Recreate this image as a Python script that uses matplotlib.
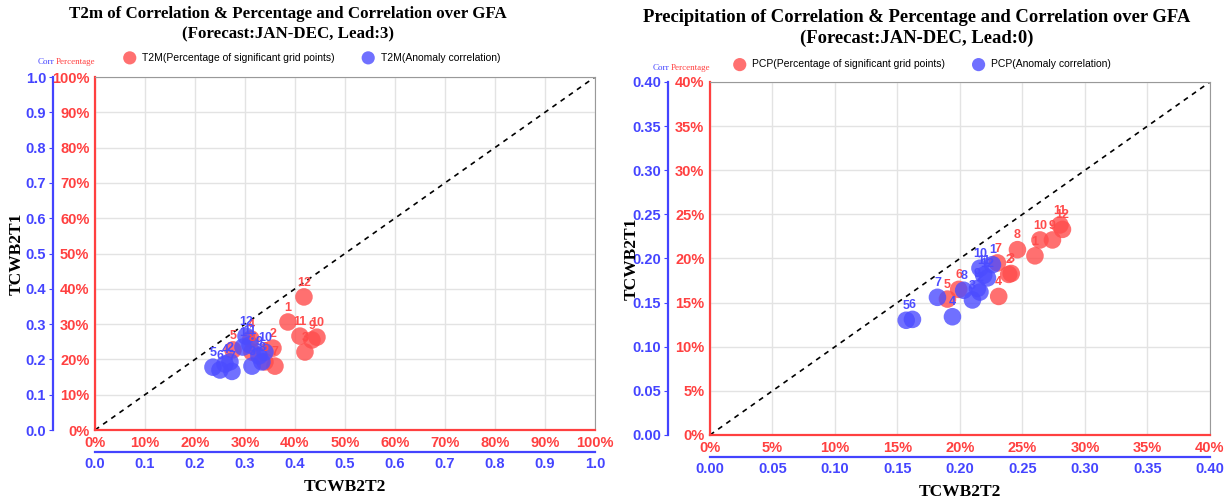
import matplotlib
matplotlib.use('Agg')
import matplotlib.pyplot as plt
from matplotlib.ticker import FuncFormatter, MultipleLocator

# ---- data ----
months = [str(m) for m in range(1, 13)]

# T2M, lead 3
t2mPctX = [0.386, 0.356, 0.420, 0.312, 0.276, 0.340, 0.360, 0.314, 0.434, 0.444, 0.410, 0.418]
t2mPctY = [0.306, 0.232, 0.221, 0.258, 0.227, 0.193, 0.181, 0.221, 0.255, 0.263, 0.266, 0.377]
t2mCorX = [0.296, 0.270, 0.314, 0.260, 0.236, 0.250, 0.274, 0.334, 0.328, 0.340, 0.310, 0.302]
t2mCorY = [0.235, 0.193, 0.181, 0.187, 0.178, 0.170, 0.166, 0.193, 0.210, 0.221, 0.241, 0.266]

# PCP, lead 0
pcpPctX = [0.260, 0.239, 0.241, 0.231, 0.190, 0.199, 0.230, 0.246, 0.274, 0.264, 0.280, 0.282]
pcpPctY = [0.203, 0.182, 0.183, 0.157, 0.154, 0.165, 0.195, 0.210, 0.221, 0.221, 0.238, 0.233]
pcpCorX = [0.226, 0.216, 0.210, 0.194, 0.157, 0.162, 0.182, 0.203, 0.214, 0.216, 0.219, 0.222]
pcpCorY = [0.193, 0.162, 0.153, 0.134, 0.130, 0.131, 0.156, 0.164, 0.166, 0.189, 0.181, 0.178]

## graphics settings
redColor = '#ff4c4c'
blueColor = '#4c4cff'
tickRed = '#ff4040'
tickBlue = '#4444ff'
gridColor = '#e3e3e3'
serif = 'Liberation Serif'
sans = 'Liberation Sans'

fig = plt.figure(figsize=(12.3, 5.03), dpi=100)


def _pctFmt(v, pos):
    return f'{v*100:.0f}%'


def _panel(rect, xmax, step, corrFmt, title, titleSize, titleTop, varName, pctX, pctY, corX, corY,
           centreX, legX, legY, yLabX, xLabY, corrY):
    ax = fig.add_axes(rect)
    ax.set_xlim(0, xmax)
    ax.set_ylim(0, xmax)
    ax.xaxis.set_major_locator(MultipleLocator(step))
    ax.yaxis.set_major_locator(MultipleLocator(step))
    ax.grid(True, color=gridColor, lw=1)
    ax.set_axisbelow(True)
    for s in ['top', 'right']:
        ax.spines[s].set_color('#999999')
    for s in ['left', 'bottom']:
        ax.spines[s].set_color(tickRed)
        ax.spines[s].set_linewidth(1.6)
    ax.xaxis.set_major_formatter(FuncFormatter(_pctFmt))
    ax.yaxis.set_major_formatter(FuncFormatter(_pctFmt))
    ax.tick_params(axis='both', length=0, pad=4, labelcolor=tickRed, labelsize=10.5)
    for lab in ax.get_xticklabels() + ax.get_yticklabels():
        lab.set_fontweight('bold')
        lab.set_family(sans)

    # blue correlation axes
    secY = ax.secondary_yaxis(-0.084)
    secY.yaxis.set_major_locator(MultipleLocator(step))
    secY.yaxis.set_major_formatter(FuncFormatter(lambda v, p: corrFmt % v))
    secY.spines['left'].set_color(tickBlue)
    secY.spines['left'].set_linewidth(1.6)
    secY.tick_params(length=3, color=tickBlue, labelcolor=tickBlue, labelsize=10.5, pad=2)
    secX = ax.secondary_xaxis(-0.062)
    secX.xaxis.set_major_locator(MultipleLocator(step))
    secX.xaxis.set_major_formatter(FuncFormatter(lambda v, p: corrFmt % v))
    secX.spines['bottom'].set_color(tickBlue)
    secX.spines['bottom'].set_linewidth(1.6)
    secX.tick_params(length=0, color=tickBlue, labelcolor=tickBlue, labelsize=10.5, pad=4)
    for lab in secY.get_yticklabels() + secX.get_xticklabels():
        lab.set_fontweight('bold')
        lab.set_family(sans)

    ax.plot([0, xmax], [0, xmax], color='black', ls=(0, (3, 3)), lw=1.2, zorder=2)

    ax.scatter(pctX, pctY, s=160, color=redColor, alpha=0.8, edgecolors='none', zorder=3,
               label=f'{varName}(Percentage of significant grid points)')
    ax.scatter(corX, corY, s=160, color=blueColor, alpha=0.8, edgecolors='none', zorder=4,
               label=f'{varName}(Anomaly correlation)')
    for i, m in enumerate(months):
        ax.annotate(m, (pctX[i], pctY[i]), xytext=(0, 6), textcoords='offset points', ha='center',
                    va='bottom', color=redColor, fontsize=9, fontweight='bold', family=sans, zorder=5)
        ax.annotate(m, (corX[i], corY[i]), xytext=(0, 6), textcoords='offset points', ha='center',
                    va='bottom', color=blueColor, fontsize=9, fontweight='bold', family=sans, zorder=5)

    fig.text(centreX, titleTop, title, ha='center', va='top', family=serif, fontweight='bold',
             fontsize=titleSize, linespacing=1.3)
    ax.legend(loc='center left', bbox_to_anchor=(legX, legY), ncol=2, frameon=False,
              prop={'family': sans, 'size': 7.5}, handletextpad=0.2, columnspacing=2.2,
              markerscale=0.75)

    fig.text(rect[0] + rect[2] / 2, xLabY, 'TCWB2T2', ha='center', va='center', family=serif,
             fontweight='bold', fontsize=12.5)
    fig.text(yLabX, rect[1] + rect[3] / 2, 'TCWB2T1', ha='center', va='center', rotation=90,
             family=serif, fontweight='bold', fontsize=12.5)

    x0 = rect[0] - 0.047
    fig.text(x0, corrY, 'Corr', color=tickBlue, family=serif, fontsize=6.5, ha='left', va='center')
    fig.text(x0 + 0.0155, corrY, 'Percentage', color=tickRed, family=serif, fontsize=6.5,
             ha='left', va='center')
    return ax


axL = _panel([0.0772, 0.1451, 0.4065, 0.7018], 1.0, 0.1, '%.1f',
             'T2m of Correlation & Percentage and Correlation over GFA\n(Forecast:JAN-DEC, Lead:3)',
             12.2, 0.988,
             'T2M', t2mPctX, t2mPctY, t2mCorX, t2mCorY, 0.234, 0.03, 1.055,
             17 / 1230, (503 - 487) / 503, (503 - 62) / 503)
axR = _panel([0.5772, 0.1352, 0.4065, 0.7018], 0.4, 0.05, '%.2f',
             'Precipitation of Correlation & Percentage and Correlation over GFA\n(Forecast:JAN-DEC, Lead:0)',
             13.4, 0.982,
             'PCP', pcpPctX, pcpPctY, pcpCorX, pcpCorY, 0.745, 0.02, 1.05,
             632 / 1230, (503 - 492) / 503, (503 - 68) / 503)

fig.savefig('out.png', dpi=100)
